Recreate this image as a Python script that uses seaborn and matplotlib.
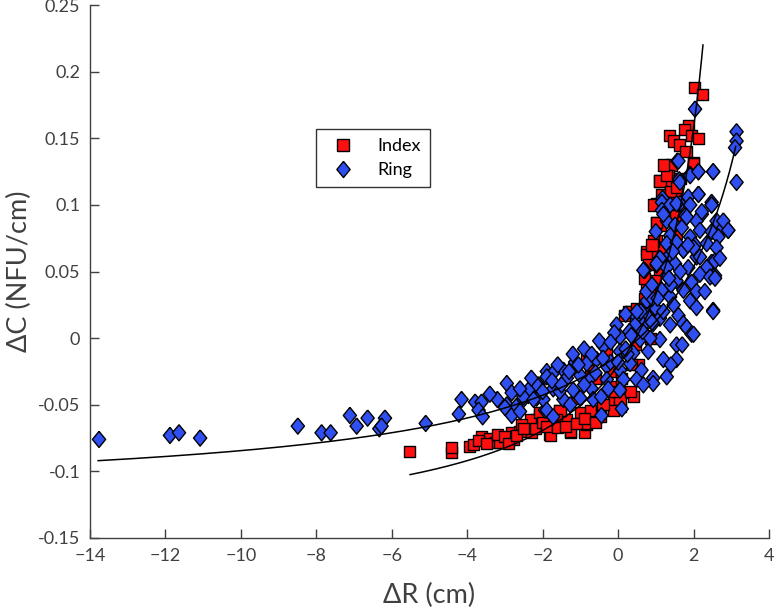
import numpy as np
import pandas as pd
import matplotlib
matplotlib.use("Agg")
import matplotlib.pyplot as plt
import seaborn as sns

# ---------------- data ----------------
index_x = [-5.52, -4.41, -4.41, -3.93, -3.84, -3.62, -3.40, -3.26, -3.13, -2.82,
           -2.78, -2.60, -2.42, -2.29, -2.29, -2.16, -2.07, -1.81, -1.27, -0.88,
           -0.83, -1.36, -1.00, -1.54, -0.74, -0.48, -0.13, 0.05, 0.23, 0.40,
           0.27, -0.83, -0.30, -0.74, 2.02, 2.24, 1.86, 1.75, 1.95, 2.13,
           1.36, 1.47, 1.62, 2.00, 1.42, 1.33, 1.11, 1.38, 1.64, 1.16,
           1.51, 1.02, 1.11, 1.51, 1.02, 1.11, 0.76, 0.89, 1.02, 1.11,
           0.80, 0.89, 0.98, 0.32, 0.49, 0.18, 1.55, -0.30, -0.21, 0.05,
           0.32, -0.13, -0.83, -1.27, -1.80, -2.33, -2.07, -1.54, -0.48, -0.74,
           -1.63, 1.11, 1.29, 1.02, 0.93, 0.76, 0.76, 1.02, 1.38, 1.55,
           2.00, 0.60, 0.45, 0.70, 0.55, -0.60, -0.20, 0.15, -1.10, -2.55,
           -3.70, -3.50, -3.20, -3.00, -2.90, -2.70, -2.50, -2.20, -2.00, -1.90,
           -1.60, -1.40, -1.10, -0.90, -0.60, -0.40, -0.10, 0.10, 0.35, 0.55,
           0.70, 0.80, 0.90, 0.95, 1.20, 1.70, 1.80, 1.00, 0.85]
index_y = [-0.085, -0.086, -0.082, -0.081, -0.080, -0.074, -0.075, -0.078, -0.078, -0.071,
           -0.076, -0.070, -0.066, -0.066, -0.071, -0.061, -0.058, -0.072, -0.071, -0.071,
           -0.065, -0.061, -0.056, -0.054, -0.059, -0.054, -0.048, -0.051, -0.041, -0.044,
           0.020, -0.014, -0.016, -0.024, 0.188, 0.183, 0.160, 0.157, 0.152, 0.150,
           0.152, 0.148, 0.145, 0.132, 0.130, 0.122, 0.118, 0.115, 0.120, 0.108,
           0.108, 0.087, 0.085, 0.092, 0.073, 0.068, 0.065, 0.062, 0.056, 0.050,
           0.040, 0.037, 0.043, 0.020, 0.022, 0.017, 0.079, -0.011, -0.036, -0.046,
           -0.040, -0.054, -0.064, -0.070, -0.073, -0.061, -0.056, -0.054, -0.059, -0.054,
           -0.061, 0.118, 0.122, 0.101, 0.073, 0.063, 0.038, 0.087, 0.110, 0.113,
           0.131, 0.005, -0.005, 0.030, -0.020, -0.030, -0.025, -0.010, -0.045, -0.065,
           -0.077, -0.079, -0.072, -0.074, -0.079, -0.073, -0.068, -0.068, -0.063, -0.066,
           -0.067, -0.066, -0.064, -0.060, -0.063, -0.050, -0.040, -0.030, -0.020, 0.010,
           0.045, 0.055, 0.070, 0.100, 0.130, 0.100, 0.140, 0.020, 0.000]

ring_x = [-13.76, -11.88, -11.64, -11.08, -8.49, -7.86, -7.62, -7.11, -6.93, -6.64,
          -6.33, -6.18, -6.27, -5.10, -4.15, -4.22, -3.79, -3.62, -3.70, -3.59,
          -3.20, -2.95, -2.82, -2.95, -2.82, -2.69, -2.51, -2.38, -2.24, -2.11,
          -1.89, -1.94, -2.16,
          2.04, 3.14, 3.14, 3.10, 3.14, 2.52, 2.13, 1.91, 1.57, 1.62,
          2.13, 2.48, 1.86, 1.18,
          1.16, 1.38, 1.64, 1.91, 2.22, 2.48, 1.16, 1.29, 1.78, 2.08,
          2.61, 2.79, 2.92, 1.51, 1.69, 2.17, 2.48, 2.66, 1.38, 1.91,
          1.29, 1.55, 2.04, 2.35, 2.61, 1.73, 2.08, 2.48, 1.38, 1.11,
          0.71, 1.02, 1.51, 1.86, 2.35, 2.57, 2.17, 1.29, 1.55, 1.95,
          1.16, 1.73, 2.08, 1.38, 1.91, 0.76, 0.98, 1.47, 2.08, 2.52,
          0.49, 0.76, 1.11, 1.60, 1.73, -0.04, 0.67,
          0.45, 0.93, 1.38, 1.82, 1.95, 0.05, 0.58, 1.11, 1.55,
          -0.39, 0.05, 0.40, 0.80, 1.20, 1.55, 1.29, 0.93, -1.14, -0.83,
          -0.57, -0.30, 0.05, 0.32, 0.62, 0.49, 0.14, -0.30, -0.74, -1.45,
          -1.72, -1.89, -1.36, -2.16, -2.38, -1.72, -1.19, -0.70, -0.26, 0.05,
          -2.51, -1.98, -1.45, -1.00, -0.66, -1.89, -1.27, -1.72, -0.44, 0.10,
          -2.24, 2.52, 2.00, 0.93, 0.67,
          1.60, 1.91, 2.13, 2.52, 1.64, 2.13, 2.48, 1.20, 1.55, 1.82,
          2.22, 2.79, 2.92, 0.67, 1.02, 1.29, 1.73, 2.00, 2.17, 2.57,
          2.44, 2.57, -1.60, -1.20, -0.90, -0.50, -0.10, 0.30, 0.60, 0.90,
          -1.00, -0.60, -0.20, 0.25, 0.85, 1.40, 0.20, -0.45, -1.55, -2.60,
          -3.40, -3.00, -2.60, -2.30, -2.00, -1.75, -1.50, -1.30, -1.05, -0.90,
          -0.70, -0.40, -0.20, 0.00, 0.20, 0.35, 0.50, 0.65, 0.75, 0.90,
          1.05, 1.20, 1.35, 1.45, 1.65, 1.85, 2.30, 2.70, 1.00, 0.90,
          1.70, 1.40]
ring_y = [-0.076, -0.073, -0.071, -0.075, -0.066, -0.071, -0.071, -0.058, -0.066, -0.060,
          -0.068, -0.060, -0.066, -0.064, -0.046, -0.057, -0.048, -0.048, -0.054, -0.059,
          -0.046, -0.034, -0.041, -0.050, -0.058, -0.051, -0.046, -0.043, -0.039, -0.035,
          -0.025, -0.054, -0.045,
          0.172, 0.155, 0.148, 0.143, 0.117, 0.125, 0.125, 0.123, 0.133, 0.119,
          0.108, 0.102, 0.106, 0.105,
          0.102, 0.100, 0.101, 0.100, 0.093, 0.100, 0.096, 0.088, 0.092, 0.088,
          0.088, 0.083, 0.081, 0.085, 0.083, 0.081, 0.080, 0.076, 0.077, 0.076,
          0.071, 0.072, 0.070, 0.071, 0.068, 0.066, 0.061, 0.057, 0.063, 0.060,
          0.051, 0.055, 0.056, 0.053, 0.053, 0.047, 0.048, 0.047, 0.043, 0.042,
          0.036, 0.036, 0.035, 0.031, 0.028, 0.028, 0.023, 0.025, 0.023, 0.021,
          0.016, 0.017, 0.015, 0.017, 0.011, 0.010, 0.010,
          0.010, 0.011, 0.010, 0.008, 0.003, 0.001, -0.001, -0.001, -0.005,
          -0.006, -0.010, -0.011, -0.010, -0.016, -0.016, -0.029, -0.030, -0.018, -0.019,
          -0.016, -0.021, -0.024, -0.019, -0.024, -0.031, -0.031, -0.031, -0.030, -0.024,
          -0.026, -0.029, -0.030, -0.035, -0.039, -0.038, -0.039, -0.038, -0.038, -0.039,
          -0.044, -0.046, -0.046, -0.045, -0.046, -0.054, -0.050, -0.059, -0.058, -0.053,
          -0.046, 0.020, 0.003, -0.034, -0.035,
          0.133, 0.122, 0.125, 0.125, 0.117, 0.108, 0.100, 0.093, 0.101, 0.091,
          0.095, 0.088, 0.081, 0.051, 0.056, 0.053, 0.066, 0.068, 0.061, 0.058,
          0.046, 0.045, -0.020, -0.012, -0.008, -0.002, 0.004, 0.005, 0.020, 0.030,
          -0.028, -0.026, -0.018, -0.012, 0.000, 0.040, 0.018, -0.044, -0.040, -0.055,
          -0.042, -0.052, -0.038, -0.030, -0.040, -0.032, -0.035, -0.025, -0.020, -0.035,
          -0.012, -0.015, -0.003, -0.018, -0.008, 0.002, 0.020, 0.005, 0.035, 0.040,
          0.030, 0.020, 0.045, 0.065, 0.050, 0.070, 0.035, 0.060, 0.080, 0.012,
          -0.005, -0.020]

# fitted curves: y = a + b / (c - x), drawn over [x_start, x_end]
index_fit = [-0.1544, 0.4684, 3.5, -5.52, 2.25]
ring_fit = [-0.1224, 0.581, 5.3, -13.79, 3.12]

x_ticks = [-14, -12, -10, -8, -6, -4, -2, 0, 2, 4]
y_ticks = [-0.15, -0.1, -0.05, 0, 0.05, 0.1, 0.15, 0.2, 0.25]
y_tick_labels = ["-0.15", "-0.1", "-0.05", "0", "0.05", "0.1", "0.15", "0.2", "0.25"]

# ---------------- plot ----------------
sns.set_theme(style="white")
plt.rcParams["font.family"] = ["Lato", "DejaVu Sans"]

fig = plt.figure(figsize=(7.77, 6.11), dpi=100)
ax = fig.add_axes([0.1158, 0.1195, 0.8739, 0.872])

df = pd.DataFrame({
    "x": index_x + ring_x,
    "y": index_y + ring_y,
    "Finger": ["Index"] * len(index_x) + ["Ring"] * len(ring_x),
})

diamond = [(0, 1), (0.82, 0), (0, -1), (-0.82, 0), (0, 1)]
sns.scatterplot(data=df, x="x", y="y", hue="Finger", style="Finger", size="Finger",
                markers={"Index": "s", "Ring": diamond},
                palette={"Index": "#ff1010", "Ring": "#2f4ff0"},
                sizes={"Index": 64, "Ring": 135},
                edgecolor="black", linewidth=1.0, ax=ax, zorder=3)

for a, b, c, x0, x1 in (index_fit, ring_fit):
    xs = np.linspace(x0, x1, 400)
    sns.lineplot(x=xs, y=a + b / (c - xs), color="black", linewidth=1.1,
                 ax=ax, zorder=4, legend=False)

ax.set_xlim(-14, 4)
ax.set_ylim(-0.15, 0.25)
ax.set_xticks(x_ticks)
ax.set_yticks(y_ticks)
ax.set_yticklabels(y_tick_labels)
ax.set_xlabel("ΔR (cm)", fontsize=19.5, color="#404040", labelpad=14)
ax.set_ylabel("ΔC (NFU/cm)", fontsize=19.5, color="#404040", labelpad=4)

for side in ("top", "right"):
    ax.spines[side].set_visible(False)
for side in ("left", "bottom"):
    ax.spines[side].set_color("#404040")
    ax.spines[side].set_linewidth(1.0)
ax.tick_params(direction="in", length=6.5, width=1, colors="#404040",
               labelsize=13, labelcolor="#404040", pad=7,
               left=True, bottom=True)

leg = ax.legend(loc="upper left", bbox_to_anchor=(0.333, 0.768), frameon=True,
                fancybox=False, edgecolor="black", fontsize=13,
                handletextpad=0.9, borderpad=0.5, labelspacing=0.45,
                borderaxespad=0.0, markerscale=1.0, title=None)
leg.get_frame().set_linewidth(1.0)
for t in leg.get_texts():
    t.set_color("black")

fig.savefig("out.png", dpi=100)
